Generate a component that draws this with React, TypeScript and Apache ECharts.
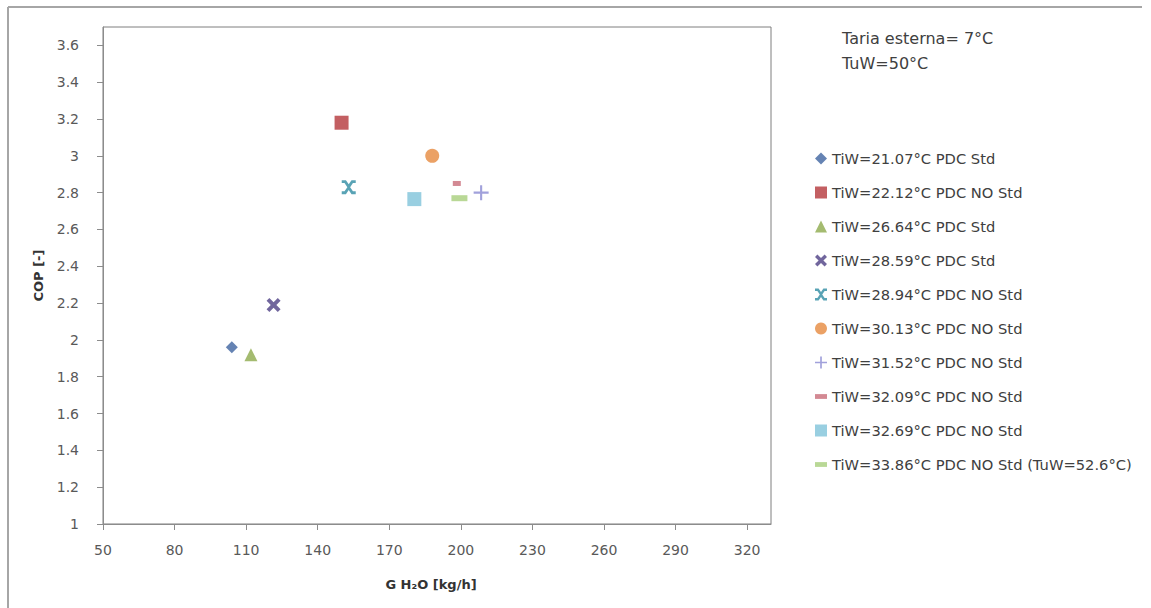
import React, { useEffect, useRef } from "react";
import * as echarts from "echarts";

const seriesNames = [
  "TiW=21.07°C PDC Std",
  "TiW=22.12°C PDC NO Std",
  "TiW=26.64°C PDC Std",
  "TiW=28.59°C PDC Std",
  "TiW=28.94°C PDC NO Std",
  "TiW=30.13°C PDC NO Std",
  "TiW=31.52°C PDC NO Std",
  "TiW=32.09°C PDC NO Std",
  "TiW=32.69°C PDC NO Std",
  "TiW=33.86°C PDC NO Std (TuW=52.6°C)",
];
const flowValues = [104, 150, 112, 121.5, 153, 188, 208.5, 198.3, 180.5, 199.4];
const copValues = [1.96, 3.18, 1.92, 2.19, 2.83, 3.0, 2.8, 2.85, 2.765, 2.77];
const xTicks = [50, 80, 110, 140, 170, 200, 230, 260, 290, 320];
const yTicks = [1, 1.2, 1.4, 1.6, 1.8, 2, 2.2, 2.4, 2.6, 2.8, 3, 3.2, 3.4, 3.6];
const notes = ["Taria esterna= 7°C", "TuW=50°C"];

const X_SYM = "path://M0,2 L2,0 L5,3 L8,0 L10,2 L7,5 L10,8 L8,10 L5,7 L2,10 L0,8 L3,5 Z";
const STAR_SYM =
  "path://M0,0 L3,0 L5,3 L7,0 L10,0 L10,2 L8,2 L6,5 L8,8 L10,8 L10,10 L7,10 L5,7 L3,10 L0,10 L0,8 L2,8 L4,5 L2,2 L0,2 Z";
const PLUS_SYM = "path://M4.3,0 L5.7,0 L5.7,4.3 L10,4.3 L10,5.7 L5.7,5.7 L5.7,10 L4.3,10 L4.3,5.7 L0,5.7 L0,4.3 L4.3,4.3 Z";
const DASH_SYM = "path://M0,0 L10,0 L10,4 L0,4 Z";

const symbols: any[] = ["diamond", "rect", "triangle", X_SYM, STAR_SYM, "circle", PLUS_SYM, DASH_SYM, "rect", DASH_SYM];
const sizes: any[] = [12, 14, 13, 14, 14, 14, 15, [8, 5], 14, [16, 6]];
const colors = ["#3F64A0", "#B4373B", "#8DAA4C", "#4E4084", "#2F8CA3", "#E68A3E", "#8A8AD2", "#C86B78", "#80C3DA", "#A8CE7C"];

export default function App() {
  const ref = useRef<HTMLDivElement>(null);
  useEffect(() => {
    if (!ref.current) return;
    const chart = echarts.init(ref.current, null, { renderer: "svg" });
    const font = "'DejaVu Sans', 'Liberation Sans', sans-serif";
    chart.setOption({
      animation: false,
      backgroundColor: "#ffffff",
      textStyle: { fontFamily: font },
      grid: {
        left: 103,
        top: 27,
        right: 380,
        bottom: 84,
        show: true,
        borderColor: "#7F7F7F",
        borderWidth: 1,
        backgroundColor: "transparent",
      },
      xAxis: {
        type: "value",
        min: 50,
        max: 330,
        name: "G H₂O [kg/h]",
        nameLocation: "middle",
        nameGap: 54,
        nameTextStyle: { fontSize: 13, fontWeight: "bold", color: "#333", padding: [0, 12, 0, 0] },
        axisLine: { lineStyle: { color: "#8C8C8C" } },
        axisTick: { show: true, length: 6, lineStyle: { color: "#8C8C8C" }, customValues: xTicks },
        axisLabel: { customValues: xTicks, fontSize: 14, color: "#595959", margin: 19 },
        splitLine: { show: false },
      },
      yAxis: {
        type: "value",
        min: 1,
        max: 3.7,
        name: "COP [-]",
        nameLocation: "middle",
        nameGap: 58,
        nameRotate: 90,
        nameTextStyle: { fontSize: 13, fontWeight: "bold", color: "#333" },
        axisLine: { show: true, lineStyle: { color: "#8C8C8C" } },
        axisTick: { show: true, length: 6, lineStyle: { color: "#8C8C8C" }, customValues: yTicks },
        axisLabel: {
          customValues: yTicks,
          fontSize: 14,
          color: "#595959",
          margin: 24,
          formatter: (v: number) => String(Math.round(v * 10) / 10),
        },
        splitLine: { show: false },
      },
      legend: {
        orient: "vertical",
        left: 810,
        top: 146,
        itemWidth: 12,
        itemHeight: 12,
        itemGap: 19,
        textStyle: { fontSize: 14.7, color: "#404040", fontFamily: font },
        data: seriesNames,
      },
      graphic: [
        {
          type: "line",
          shape: { x1: 8, y1: 7, x2: 1142, y2: 7 },
          style: { stroke: "#A6A6A6", lineWidth: 2 },
          silent: true,
        },
        {
          type: "line",
          shape: { x1: 8, y1: 7, x2: 8, y2: 608 },
          style: { stroke: "#A6A6A6", lineWidth: 2 },
          silent: true,
        },
        {
          type: "text",
          left: 842,
          top: 30,
          style: { text: notes[0], fontSize: 16, fill: "#404040", fontFamily: font },
        },
        {
          type: "text",
          left: 842,
          top: 55,
          style: { text: notes[1], fontSize: 16, fill: "#404040", fontFamily: font },
        },
      ],
      series: seriesNames.map((name, i) => ({
        name,
        type: "scatter",
        symbol: symbols[i],
        symbolSize: sizes[i],
        itemStyle: { color: colors[i] },
        data: [[flowValues[i], copValues[i]]],
      })),
    });
    return () => chart.dispose();
  }, []);
  return (
    <div
      ref={ref}
      style={{ position: "fixed", left: 0, top: 0, width: 1151, height: 608 }}
    />
  );
}
